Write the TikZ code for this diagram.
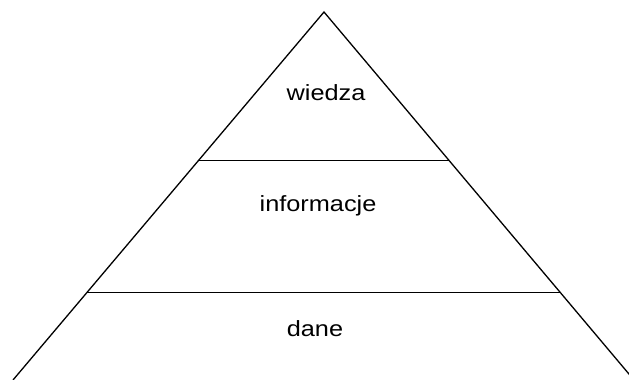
\documentclass[tikz,border=0pt]{standalone}
\usepackage{fontspec}
\setmainfont{Liberation Sans}[FakeStretch=1.15]
\usetikzlibrary{calc}
\begin{document}
\begin{tikzpicture}[x=1pt,y=1pt,
  edge/.style={line width=1.3pt, black},
  label/.style={anchor=base, font=\fontsize{22}{24}\selectfont, inner sep=0pt}]
\useasboundingbox (0,0) rectangle (629,380);
\clip (0,0) rectangle (629,380);
\coordinate (A) at (324,368);
\coordinate (L) at (13,0);
\coordinate (R) at (634,0);
\draw[edge] (L) -- (A) -- (R);
\coordinate (l1) at ($(A)!0.404!(L)$);
\coordinate (r1) at ($(A)!0.404!(R)$);
\coordinate (l2) at ($(A)!0.763!(L)$);
\coordinate (r2) at ($(A)!0.763!(R)$);
\draw[edge] (l1) -- (r1);
\draw[edge] (l2) -- (r2);
\node[label] (w) at (326,279.3) {wiedza};
\node[label] (i) at (318,168) {informacje};
\node[label] (d) at (315,43.3) {dane};
\end{tikzpicture}
\end{document}
